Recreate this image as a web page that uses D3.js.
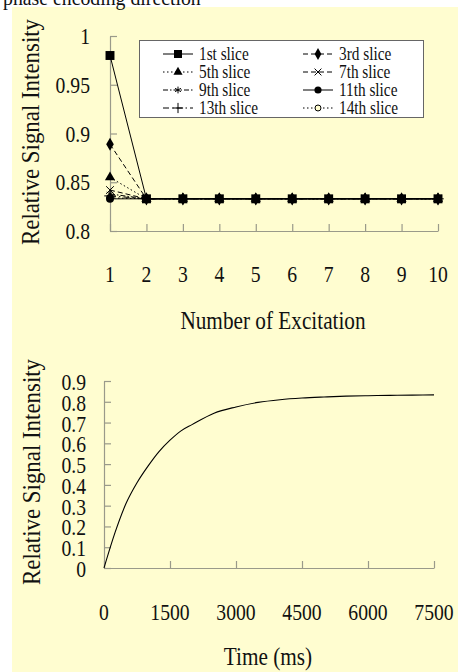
<!DOCTYPE html>
<html>
<head>
<meta charset="utf-8">
<script src="https://cdn.jsdelivr.net/npm/d3@7"></script>
<style>
  body { margin: 0; background: #fff; }
  svg { display: block; }
  text { font-family: 'Liberation Serif', 'Times New Roman', serif; fill: #111; }
</style>
</head>
<body>
<svg></svg>
<script>
const w = 458;
const h = 672;

// top chart data
const excitations = [1, 2, 3, 4, 5, 6, 7, 8, 9, 10];
const sliceNames = ['1st slice', '3rd slice', '5th slice', '7th slice', '9th slice', '11th slice', '13th slice', '14th slice'];
const slice1 = [0.980, 0.833, 0.833, 0.833, 0.833, 0.833, 0.833, 0.833, 0.833, 0.833];
const slice3 = [0.889, 0.833, 0.833, 0.833, 0.833, 0.833, 0.833, 0.833, 0.833, 0.833];
const slice5 = [0.855, 0.833, 0.833, 0.833, 0.833, 0.833, 0.833, 0.833, 0.833, 0.833];
const slice7 = [0.842, 0.833, 0.833, 0.833, 0.833, 0.833, 0.833, 0.833, 0.833, 0.833];
const slice9 = [0.838, 0.833, 0.833, 0.833, 0.833, 0.833, 0.833, 0.833, 0.833, 0.833];
const slice11 = [0.833, 0.833, 0.833, 0.833, 0.833, 0.833, 0.833, 0.833, 0.833, 0.833];
const slice13 = [0.836, 0.833, 0.833, 0.833, 0.833, 0.833, 0.833, 0.833, 0.833, 0.833];
const slice14 = [0.834, 0.833, 0.833, 0.833, 0.833, 0.833, 0.833, 0.833, 0.833, 0.833];
const sliceValues = [slice1, slice3, slice5, slice7, slice9, slice11, slice13, slice14];
const topYTicks = [0.8, 0.85, 0.9, 0.95, 1];

// bottom chart data
const timeMs = [0, 250, 500, 750, 1000, 1250, 1500, 1750, 2000, 2500, 3000, 3500, 4000, 4500, 5000, 5500, 6000, 6500, 7000, 7500];
const signal = [0, 0.17, 0.31, 0.41, 0.49, 0.56, 0.615, 0.66, 0.69, 0.745, 0.775, 0.797, 0.81, 0.818, 0.823, 0.827, 0.829, 0.831, 0.832, 0.833];
const timeTicks = [0, 1500, 3000, 4500, 6000, 7500];
const bottomYTicks = [0, 0.1, 0.2, 0.3, 0.4, 0.5, 0.6, 0.7, 0.8, 0.9];

// styles for each slice
const sliceStyles = [
  { symbol: 'square', dash: null, size: 80 },
  { symbol: 'diamond', dash: '5,3', size: 50 },
  { symbol: 'triangle', dash: '1.5,2.5', size: 45 },
  { symbol: 'times', dash: '5,3', size: 40 },
  { symbol: 'asterisk', dash: '5,2,1.5,2', size: 40 },
  { symbol: 'circle', dash: null, size: 50 },
  { symbol: 'plus', dash: '6,3,1.5,3', size: 45 },
  { symbol: 'ocircle', dash: '1.5,2.5', size: 35 }
];

const svg = d3.select('svg').attr('width', w).attr('height', h);

svg.append('rect').attr('x', 12).attr('y', 7)
  .attr('width', w - 12).attr('height', h - 7).attr('fill', '#fffdd0');

// text with condensed look
const label = (x, y, str, size, sx, anchor, rot) => {
  const g = svg.append('g')
    .attr('transform', `translate(${x},${y})` + (rot ? ` rotate(${rot})` : '') + ` scale(${sx},1)`);
  g.append('text').attr('font-size', size).attr('text-anchor', anchor || 'middle').text(str);
};

label(3, 5, 'phase encoding direction', 22, 0.9, 'start');

const symbolType = {
  square: d3.symbolSquare,
  diamond: d3.symbolDiamond,
  triangle: d3.symbolTriangle,
  times: d3.symbolTimes || d3.symbolCross,
  asterisk: d3.symbolAsterisk || d3.symbolStar,
  circle: d3.symbolCircle,
  plus: d3.symbolPlus || d3.symbolCross,
  ocircle: d3.symbolCircle
};
const isStroke = (s) => ['times', 'asterisk', 'plus', 'ocircle'].includes(s);

const drawMarker = (sel, st) => {
  sel.attr('d', d3.symbol().type(symbolType[st.symbol]).size(st.size))
    .attr('fill', isStroke(st.symbol) ? (st.symbol === 'ocircle' ? '#fffdd0' : 'none') : '#000')
    .attr('stroke', isStroke(st.symbol) ? '#000' : 'none')
    .attr('stroke-width', 1);
};

const styleAxis = (g) => {
  g.selectAll('path, line').attr('stroke', '#9a9a8a').attr('stroke-width', 1.2);
  g.selectAll('text').remove();
};

// ---------------- top chart ----------------
const x1 = d3.scaleLinear().domain([1, 10]).range([110, 438]);
const y1 = d3.scaleLinear().domain([0.8, 1]).range([231, 36]);

svg.append('g').attr('transform', 'translate(110,0)')
  .call(d3.axisLeft(y1).tickValues(topYTicks).tickSizeInner(-7).tickSizeOuter(0))
  .call(styleAxis);
svg.append('g').attr('transform', 'translate(0,231)')
  .call(d3.axisBottom(x1).tickValues(excitations).tickSizeInner(-7).tickSizeOuter(0))
  .call(styleAxis);

topYTicks.forEach((t) => label(90, y1(t) + 8, String(t), 24, 0.82, 'end'));
excitations.forEach((t) => label(x1(t), 282, String(t), 24, 0.82, 'middle'));
label(273, 329, 'Number of Excitation', 25, 0.85, 'middle');
label(39, 132, 'Relative Signal Intensity', 26, 0.88, 'middle', -90);

const line1 = d3.line().x((d, i) => x1(excitations[i])).y((d) => y1(d));

// draw last slice first so 1st slice ends up on top
for (let k = sliceValues.length - 1; k >= 0; k--) {
  const st = sliceStyles[k];
  const g = svg.append('g');
  g.append('path').attr('d', line1(sliceValues[k]))
    .attr('fill', 'none').attr('stroke', '#000').attr('stroke-width', 1)
    .attr('stroke-dasharray', st.dash);
  g.selectAll('path.m').data(sliceValues[k]).enter().append('path')
    .attr('class', 'm')
    .attr('transform', (d, i) => `translate(${x1(excitations[i])},${y1(d)})`)
    .call(drawMarker, st);
}

// legend
svg.append('rect').attr('x', 139.5).attr('y', 40.5).attr('width', 284).attr('height', 77)
  .attr('fill', '#fff').attr('stroke', '#666').attr('stroke-width', 1);
sliceNames.forEach((name, k) => {
  const st = sliceStyles[k];
  const col = k % 2;
  const row = Math.floor(k / 2);
  const cx = col === 0 ? 178 : 318;
  const cy = 54 + row * 18;
  svg.append('line').attr('x1', cx - 15).attr('x2', cx + 15).attr('y1', cy).attr('y2', cy)
    .attr('stroke', '#000').attr('stroke-width', 1).attr('stroke-dasharray', st.dash);
  svg.append('path').attr('transform', `translate(${cx},${cy})`)
    .call(drawMarker, { ...st, size: st.size * 0.8 });
  label(cx + 21, cy + 6, name, 18, 0.85, 'start');
});

// ---------------- bottom chart ----------------
const x2 = d3.scaleLinear().domain([0, 7500]).range([104, 434]);
const y2 = d3.scaleLinear().domain([0, 0.9]).range([568, 381]);

svg.append('g').attr('transform', 'translate(104,0)')
  .call(d3.axisLeft(y2).tickValues(bottomYTicks).tickSizeInner(-7).tickSizeOuter(0))
  .call(styleAxis);
svg.append('g').attr('transform', 'translate(0,568)')
  .call(d3.axisBottom(x2).tickValues(timeTicks).tickSizeInner(-7).tickSizeOuter(0))
  .call(styleAxis);

bottomYTicks.forEach((t) => label(86, y2(t) + 9, String(t), 24, 0.82, 'end'));
timeTicks.forEach((t) => label(x2(t), 620, String(t), 24, 0.82, 'middle'));
label(268, 665, 'Time (ms)', 25, 0.85, 'middle');
label(40, 472, 'Relative Signal Intensity', 26, 0.88, 'middle', -90);

const line2 = d3.line().x((d, i) => x2(timeMs[i])).y((d) => y2(d)).curve(d3.curveMonotoneX);
svg.append('path').attr('d', line2(signal))
  .attr('fill', 'none').attr('stroke', '#000').attr('stroke-width', 1.1);
</script>
</body>
</html>
